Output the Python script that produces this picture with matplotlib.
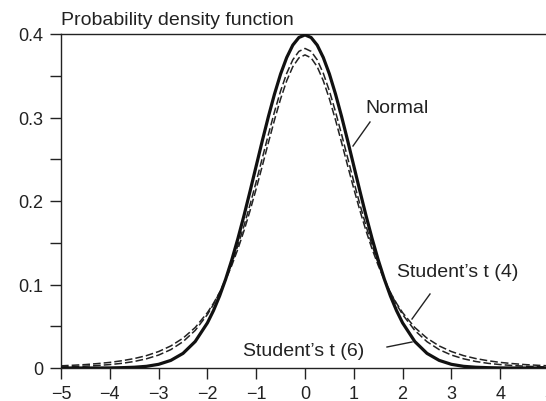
import matplotlib
matplotlib.use("Agg")
import matplotlib.pyplot as plt
from matplotlib.ticker import MultipleLocator, FixedLocator

plt.rcParams['font.family'] = ['Liberation Sans', 'DejaVu Sans']

# data
x = [-5, -4.75, -4.5, -4.25, -4, -3.75, -3.5, -3.25, -3, -2.75, -2.5, -2.25,
     -2, -1.875, -1.75, -1.625, -1.5, -1.375, -1.25, -1.125, -1, -0.875, -0.75,
     -0.625, -0.5, -0.375, -0.25, -0.125, 0, 0.125, 0.25, 0.375, 0.5, 0.625,
     0.75, 0.875, 1, 1.125, 1.25, 1.375, 1.5, 1.625, 1.75, 1.875, 2,
     2.25, 2.5, 2.75, 3, 3.25, 3.5, 3.75, 4, 4.25, 4.5, 4.75, 5]

normal = [0.0000, 0.0000, 0.0000, 0.0000, 0.0001, 0.0004, 0.0009, 0.0020, 0.0044,
          0.0091, 0.0175, 0.0317,
          0.0540, 0.0688, 0.0863, 0.1065, 0.1295, 0.1550, 0.1826, 0.2119, 0.2420,
          0.2721, 0.3011, 0.3281, 0.3521, 0.3718, 0.3867, 0.3958, 0.3989,
          0.3958, 0.3867, 0.3718, 0.3521, 0.3281, 0.3011, 0.2721, 0.2420, 0.2119,
          0.1826, 0.1550, 0.1295, 0.1065, 0.0863, 0.0688, 0.0540,
          0.0317, 0.0175, 0.0091, 0.0044, 0.0020, 0.0009, 0.0004, 0.0001, 0.0000,
          0.0000, 0.0000, 0.0000]

t4 = [0.0026, 0.0033, 0.0041, 0.0053, 0.0067, 0.0087, 0.0113, 0.0148, 0.0197,
      0.0264, 0.0357, 0.0485,
      0.0663, 0.0775, 0.0905, 0.1056, 0.1229, 0.1425, 0.1644, 0.1886, 0.2147,
      0.2420, 0.2699, 0.2971, 0.3223, 0.3440, 0.3608, 0.3714, 0.3750,
      0.3714, 0.3608, 0.3440, 0.3223, 0.2971, 0.2699, 0.2420, 0.2147, 0.1886,
      0.1644, 0.1425, 0.1229, 0.1056, 0.0905, 0.0775, 0.0663,
      0.0485, 0.0357, 0.0264, 0.0197, 0.0148, 0.0113, 0.0087, 0.0067, 0.0053,
      0.0041, 0.0033, 0.0026]

t6 = [0.0012, 0.0016, 0.0022, 0.0030, 0.0041, 0.0056, 0.0078, 0.0110, 0.0155,
      0.0220, 0.0315, 0.0450,
      0.0640, 0.0762, 0.0904, 0.1068, 0.1256, 0.1467, 0.1703, 0.1959, 0.2231,
      0.2514, 0.2797, 0.3069, 0.3318, 0.3529, 0.3691, 0.3792, 0.3827,
      0.3792, 0.3691, 0.3529, 0.3318, 0.3069, 0.2797, 0.2514, 0.2231, 0.1959,
      0.1703, 0.1467, 0.1256, 0.1068, 0.0904, 0.0762, 0.0640,
      0.0450, 0.0315, 0.0220, 0.0155, 0.0110, 0.0078, 0.0056, 0.0041, 0.0030,
      0.0022, 0.0016, 0.0012]

x_ticks = [-5, -4, -3, -2, -1, 0, 1, 2, 3, 4, 5]
y_ticks = [0, 0.1, 0.2, 0.3, 0.4]
y_tick_labels = ['0', '0.1', '0.2', '0.3', '0.4']

W, H = 546, 402
fig = plt.figure(figsize=(W / 100, H / 100), dpi=100)
left, right, top, bottom = 61, 549, 35, 369
ax = fig.add_axes([left / W, 1 - bottom / H, (right - left) / W, (bottom - top) / H])

ax.plot(x, t4, color='#222222', lw=1.1, dashes=(5, 2), zorder=2)
ax.plot(x, t6, color='#222222', lw=1.1, dashes=(5, 2), zorder=2)
ax.plot(x, normal, color='#111111', lw=2.3, zorder=3)

ax.set_xlim(-5, 5)
ax.set_ylim(0, 0.4)
ax.xaxis.set_major_locator(FixedLocator(x_ticks))
ax.set_yticks(y_ticks)
ax.set_yticklabels(y_tick_labels)
ax.yaxis.set_minor_locator(MultipleLocator(0.05))

for s in ['left', 'top', 'bottom']:
    ax.spines[s].set_linewidth(1.0)
    ax.spines[s].set_color('#222222')
ax.spines['right'].set_visible(False)

ax.tick_params(axis='both', which='both', direction='out', length=8, width=1.0,
               color='#222222', labelsize=13, labelcolor='#222222')
ax.tick_params(axis='y', which='both', pad=5)
ax.tick_params(axis='x', pad=4)

fig.text(61 / W, 1 - 25 / H, 'Probability density function', fontsize=14,
         color='#222222', ha='left', va='baseline')


def px2d(px, py):
    return ((px - 305) / 48.8, (369 - py) / 835.0)


txt_kw = dict(fontsize=14, color='#222222', ha='left', va='baseline')
ax.text(*px2d(365, 113), 'Normal', **txt_kw)
ax.text(*px2d(397, 277), "Student’s t (4)", **txt_kw)
ax.text(*px2d(243, 356), "Student’s t (6)", **txt_kw)

for (a, b) in [((370, 123), (353, 147)), ((430, 295), (412, 320)), ((387, 348), (412, 343))]:
    p0, p1 = px2d(*a), px2d(*b)
    ax.plot([p0[0], p1[0]], [p0[1], p1[1]], color='#222222', lw=1.0, clip_on=False)

fig.savefig('out.png', dpi=100)
